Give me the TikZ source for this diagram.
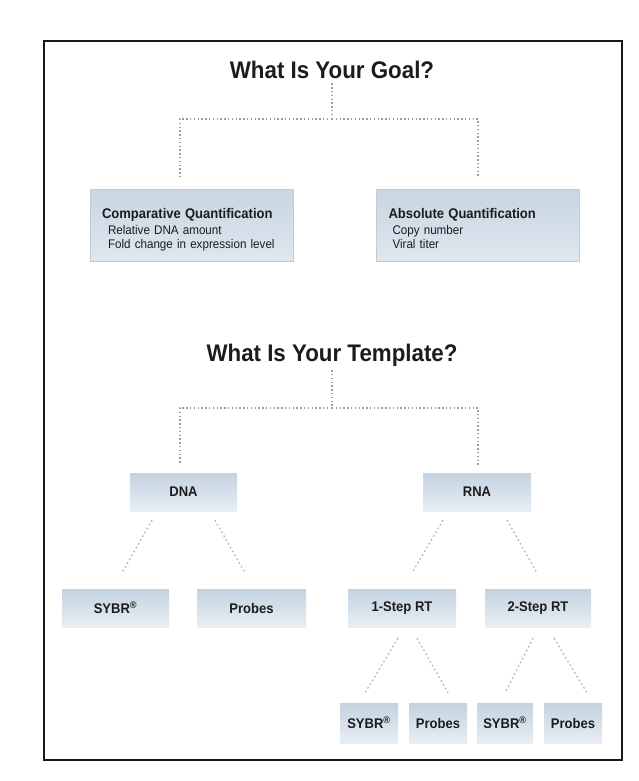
\documentclass[tikz,border=0pt]{standalone}
\usepackage{fontspec}
\setmainfont{Liberation Sans}[FakeStretch=0.93]
\definecolor{boxtop}{HTML}{C4D2E0}
\definecolor{boxbot}{HTML}{E8EEF4}
\definecolor{bigtop}{HTML}{C8D5E2}
\definecolor{bigbot}{HTML}{DFE7EF}
\definecolor{bigedge}{HTML}{C2CCD6}
\definecolor{linegray}{HTML}{949EA8}
\definecolor{diaggray}{HTML}{ACB4BC}
\definecolor{ink}{HTML}{1C1C1C}
\begin{document}
\begin{tikzpicture}[x=1pt,y=-1pt,
  titletext/.style={font=\bfseries\fontsize{24}{28}\selectfont, text=ink, inner sep=0pt, anchor=base},
  smallbox/.style={rectangle, top color=boxtop, bottom color=boxbot, minimum height=38pt,
     inner sep=0pt, text=ink, font=\bfseries\fontsize{14}{16}\selectfont},
  bigbox/.style={rectangle, top color=bigtop, bottom color=bigbot, draw=bigedge, line width=0.6pt,
     minimum width=203pt, minimum height=72pt, text width=179pt, align=left,
     inner xsep=12pt, inner ysep=0pt, text=ink, font=\fontsize{12.5}{14}\selectfont},
  dotline/.style={draw=linegray, line width=1.4pt, dash pattern=on 1.4pt off 2.4pt},
  diagline/.style={draw=diaggray, line width=1.3pt, dash pattern=on 1.6pt off 2.8pt}]

\fill[white] (0,0) rectangle (639,781);
\useasboundingbox (0,0) rectangle (639,781);

% frame
\draw[line width=2.6pt, draw=black!90] (44,41) rectangle (622,760);

% ---- goal section
\node[titletext] (goal) at (332,79) {What Is Your Goal?};
\node[bigbox] (comp) at (191.5,225) {\rule{0pt}{21pt}{\bfseries\fontsize{14}{16}\selectfont Comparative Quantification}\\[2pt]
  \hspace*{6pt}Relative DNA amount\\ \hspace*{6pt}Fold change in expression level\strut};
\node[bigbox] (abs) at (478,225) {\rule{0pt}{21pt}{\bfseries\fontsize{14}{16}\selectfont Absolute Quantification}\\[2pt]
  \hspace*{4pt}Copy number\\ \hspace*{4pt}Viral titer\strut};

\coordinate (gj) at (332,119);
\coordinate (gl) at (180,177);
\coordinate (gr) at (478,177);
\draw[dotline] ([yshift=-4pt]goal.south) -- (gj);
\draw[dotline] (gj) -| (gl);
\draw[dotline] (gj) -| (gr);

% ---- template section
\node[titletext] (tmpl) at (332,361) {What Is Your Template?};
\node[smallbox, minimum width=107pt] (dna) at (183.5,492) {DNA};
\node[smallbox, minimum width=108pt] (rna) at (477,492) {RNA};

\coordinate (tj) at (332,408);
\coordinate (tl) at (180,465);
\coordinate (tr) at (478,465);
\draw[dotline] ([yshift=-4pt]tmpl.south) -- (tj);
\draw[dotline] (tj) -| (tl);
\draw[dotline] (tj) -| (tr);

% ---- third row
\node[smallbox, minimum width=107pt] (sybrA) at (115.5,608) {SYBR\textsuperscript{\textregistered}};
\node[smallbox, minimum width=109pt] (probesA) at (251.5,608) {Probes};
\node[smallbox, minimum width=108pt] (one) at (402,608) {1-Step RT};
\node[smallbox, minimum width=106pt] (two) at (538,608) {2-Step RT};

% ---- fourth row
\node[smallbox, minimum width=58pt, minimum height=40pt] (sybrB) at (369,723) {SYBR\textsuperscript{\textregistered}};
\node[smallbox, minimum width=58pt, minimum height=40pt] (probesB) at (438,723) {Probes};
\node[smallbox, minimum width=56pt, minimum height=40pt] (sybrC) at (505,723) {SYBR\textsuperscript{\textregistered}};
\node[smallbox, minimum width=58pt, minimum height=40pt] (probesC) at (573,723) {Probes};

% ---- diagonal connectors
\draw[diagline] ([xshift=-31.5pt,yshift=-9pt]dna.south) -- ([xshift=6.5pt,yshift=16pt]sybrA.north);
\draw[diagline] ([xshift=31.5pt,yshift=-9pt]dna.south) -- ([xshift=-6.5pt,yshift=16pt]probesA.north);
\draw[diagline] ([xshift=-34pt,yshift=-9pt]rna.south) -- ([xshift=10pt,yshift=16pt]one.north);
\draw[diagline] ([xshift=30pt,yshift=-9pt]rna.south) -- ([xshift=-1pt,yshift=16pt]two.north);
\draw[diagline] ([xshift=-4pt,yshift=-11pt]one.south) -- ([xshift=-4pt,yshift=10pt]sybrB.north);
\draw[diagline] ([xshift=15pt,yshift=-11pt]one.south) -- ([xshift=10pt,yshift=10pt]probesB.north);
\draw[diagline] ([xshift=-5pt,yshift=-11pt]two.south) -- ([xshift=0pt,yshift=10pt]sybrC.north);
\draw[diagline] ([xshift=16pt,yshift=-11pt]two.south) -- ([xshift=14pt,yshift=10pt]probesC.north);
\end{tikzpicture}
\end{document}
